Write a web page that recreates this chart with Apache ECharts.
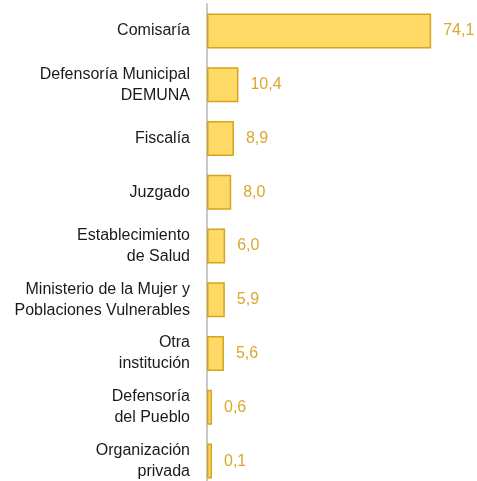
<!DOCTYPE html>
<html>
<head>
<meta charset="utf-8">
<script src="https://cdn.jsdelivr.net/npm/echarts@6/dist/echarts.min.js"></script>
<style>
  html, body { margin: 0; padding: 0; background: #fff; }
  #chart { width: 477px; height: 481px; }
</style>
</head>
<body>
<div id="chart"></div>
<script>
// instituciones (de arriba hacia abajo)
var categories = [
    'Comisaría',
    'Defensoría Municipal\nDEMUNA',
    'Fiscalía',
    'Juzgado',
    'Establecimiento\nde Salud',
    'Ministerio de la Mujer y\nPoblaciones Vulnerables',
    'Otra\ninstitución',
    'Defensoría\ndel Pueblo',
    'Organización\nprivada'
];
var values = [74.1, 10.4, 8.9, 8.0, 6.0, 5.9, 5.6, 0.6, 0.1];

var chart = echarts.init(document.getElementById('chart'));

var option = {
    animation: false,
    grid: {
        left: 207,
        top: 4,
        width: 242,
        height: 484,
        outerBoundsMode: 'none'
    },
    xAxis: {
        type: 'value',
        min: 0,
        max: 80,
        show: false
    },
    yAxis: {
        type: 'category',
        inverse: true,
        data: categories,
        axisLine: {
            show: true,
            onZero: false,
            lineStyle: { color: '#c8c8c8', width: 2 }
        },
        axisTick: { show: false },
        axisLabel: {
            margin: 17,
            color: '#1a1a1a',
            fontFamily: 'Liberation Sans, Arial, sans-serif',
            fontSize: 16,
            lineHeight: 21,
            align: 'right'
        }
    },
    series: [{
        type: 'bar',
        data: values,
        barWidth: 35,
        barMinHeight: 5,
        itemStyle: {
            color: '#FFD966',
            borderColor: '#D4A41C',
            borderWidth: 1.5
        },
        label: {
            show: true,
            position: 'right',
            distance: 12,
            color: '#D9A82E',
            fontFamily: 'Liberation Sans, Arial, sans-serif',
            fontSize: 16,
            formatter: function (p) {
                return p.value.toFixed(1).replace('.', ',');
            }
        }
    }]
};

chart.setOption(option);
</script>
</body>
</html>
